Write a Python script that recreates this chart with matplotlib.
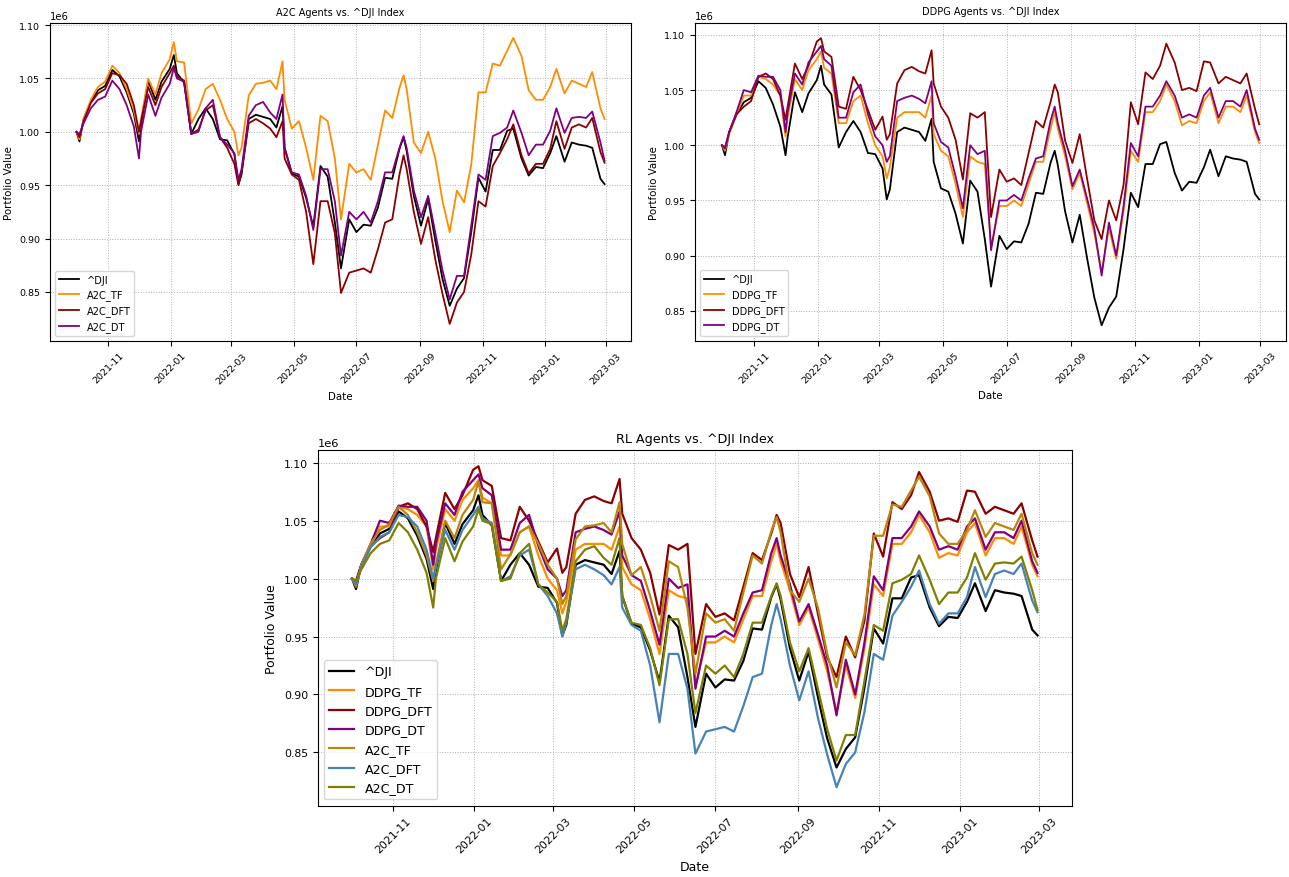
import pandas as pd
import matplotlib
matplotlib.use("Agg")
import matplotlib.pyplot as plt
import matplotlib.dates as mdates

# weekly readings (portfolio value in millions), normalised to 1.0 on 2021-10-01
dates = [
    "2021-10-01", "2021-10-04", "2021-10-08", "2021-10-15", "2021-10-22", "2021-10-29",
    "2021-11-05", "2021-11-12", "2021-11-19", "2021-11-26",
    "2021-12-01", "2021-12-03", "2021-12-10", "2021-12-17", "2021-12-23", "2021-12-31",
    "2022-01-04", "2022-01-07", "2022-01-14", "2022-01-21", "2022-01-28",
    "2022-02-04", "2022-02-11", "2022-02-18", "2022-02-25",
    "2022-03-04", "2022-03-08", "2022-03-11", "2022-03-18", "2022-03-25",
    "2022-04-01", "2022-04-08", "2022-04-14", "2022-04-20", "2022-04-22", "2022-04-29",
    "2022-05-06", "2022-05-13", "2022-05-20", "2022-05-27",
    "2022-06-03", "2022-06-10", "2022-06-16", "2022-06-24",
    "2022-07-01", "2022-07-08", "2022-07-15", "2022-07-22", "2022-07-29",
    "2022-08-05", "2022-08-12", "2022-08-16", "2022-08-19", "2022-08-26",
    "2022-09-02", "2022-09-09", "2022-09-16", "2022-09-23", "2022-09-30",
    "2022-10-07", "2022-10-14", "2022-10-21", "2022-10-28",
    "2022-11-04", "2022-11-11", "2022-11-18", "2022-11-25",
    "2022-12-01", "2022-12-09", "2022-12-16", "2022-12-23", "2022-12-30",
    "2023-01-06", "2023-01-12", "2023-01-20", "2023-01-27",
    "2023-02-03", "2023-02-10", "2023-02-16", "2023-02-24", "2023-02-28",
]

dji = [
    1.000, 0.991, 1.012, 1.028, 1.039, 1.043,
    1.058, 1.052, 1.037, 1.017,
    0.991, 1.007, 1.048, 1.030, 1.047, 1.059,
    1.072, 1.055, 1.046, 0.998, 1.012,
    1.022, 1.012, 0.993, 0.992,
    0.979, 0.951, 0.960, 1.012, 1.016,
    1.014, 1.012, 1.004, 1.024, 0.985, 0.961,
    0.958, 0.938, 0.911, 0.968,
    0.958, 0.915, 0.872, 0.918,
    0.906, 0.913, 0.912, 0.929, 0.957,
    0.956, 0.984, 0.995, 0.982, 0.940,
    0.912, 0.937, 0.898, 0.862, 0.837,
    0.853, 0.863, 0.906, 0.957,
    0.944, 0.983, 0.983, 1.001,
    1.003, 0.975, 0.959, 0.967, 0.966,
    0.980, 0.996, 0.972, 0.990,
    0.988, 0.987, 0.985, 0.956, 0.951,
]

a2c_tf = [
    1.000, 0.993, 1.012, 1.030, 1.042, 1.047,
    1.062, 1.055, 1.040, 1.020,
    0.998, 1.012, 1.050, 1.035, 1.055, 1.068,
    1.084, 1.066, 1.065, 1.008, 1.021,
    1.040, 1.045, 1.030, 1.012,
    1.000, 0.978, 0.985, 1.034, 1.045,
    1.046, 1.048, 1.040, 1.066, 1.030, 1.003,
    1.010, 0.985, 0.955, 1.015,
    1.010, 0.975, 0.918, 0.970,
    0.962, 0.965, 0.955, 0.988, 1.020,
    1.013, 1.041, 1.053, 1.040, 0.990,
    0.980, 1.000, 0.975, 0.935, 0.906,
    0.945, 0.934, 0.969, 1.037,
    1.037, 1.064, 1.062, 1.076,
    1.088, 1.071, 1.039, 1.030, 1.030,
    1.042, 1.059, 1.036, 1.048,
    1.045, 1.042, 1.056, 1.022, 1.012,
]

a2c_dft = [
    1.000, 0.995, 1.010, 1.027, 1.036, 1.040,
    1.055, 1.053, 1.045, 1.025,
    1.000, 1.010, 1.042, 1.025, 1.042, 1.055,
    1.062, 1.052, 1.048, 0.998, 1.002,
    1.020, 1.025, 0.995, 0.985,
    0.970, 0.950, 0.962, 1.008, 1.012,
    1.008, 1.003, 0.995, 1.010, 0.975, 0.960,
    0.955, 0.925, 0.876, 0.935,
    0.935, 0.905, 0.849, 0.868,
    0.870, 0.872, 0.868, 0.890, 0.915,
    0.918, 0.960, 0.978, 0.965, 0.925,
    0.895, 0.920, 0.880, 0.848, 0.820,
    0.840, 0.850, 0.885, 0.935,
    0.930, 0.968, 0.980, 0.993,
    1.007, 0.978, 0.961, 0.970, 0.970,
    0.984, 1.010, 0.984, 1.004,
    1.007, 1.004, 1.013, 0.981, 0.971,
]

a2c_dt = [
    1.000, 0.998, 1.008, 1.022, 1.030, 1.033,
    1.048, 1.040, 1.025, 1.005,
    0.975, 1.000, 1.035, 1.015, 1.032, 1.045,
    1.060, 1.050, 1.047, 0.998, 1.000,
    1.022, 1.030, 0.995, 0.988,
    0.980, 0.955, 0.965, 1.015, 1.025,
    1.028, 1.018, 1.012, 1.035, 0.985, 0.962,
    0.960, 0.940, 0.908, 0.965,
    0.965, 0.935, 0.884, 0.925,
    0.918, 0.925, 0.915, 0.935, 0.962,
    0.962, 0.985, 0.996, 0.985, 0.945,
    0.920, 0.940, 0.905, 0.870, 0.843,
    0.865, 0.865, 0.912, 0.960,
    0.955, 0.996, 0.999, 1.004,
    1.020, 0.999, 0.978, 0.988, 0.988,
    1.001, 1.022, 0.999, 1.013,
    1.014, 1.013, 1.019, 0.990, 0.973,
]

ddpg_tf = [
    1.000, 0.995, 1.010, 1.028, 1.045, 1.045,
    1.062, 1.060, 1.055, 1.045,
    1.008, 1.025, 1.060, 1.050, 1.068, 1.078,
    1.085, 1.070, 1.065, 1.020, 1.020,
    1.040, 1.045, 1.020, 1.000,
    0.990, 0.970, 0.980, 1.025, 1.030,
    1.030, 1.030, 1.025, 1.045, 1.010, 0.995,
    0.990, 0.965, 0.935, 0.990,
    0.985, 0.983, 0.908, 0.945,
    0.945, 0.950, 0.945, 0.965, 0.985,
    0.985, 1.015, 1.030, 1.015, 0.990,
    0.960, 0.975, 0.948, 0.920, 0.885,
    0.925, 0.897, 0.940, 0.995,
    0.985, 1.030, 1.030, 1.040,
    1.055, 1.040, 1.018, 1.022, 1.020,
    1.040, 1.048, 1.020, 1.035,
    1.035, 1.030, 1.045, 1.012, 1.002,
]

ddpg_dft = [
    1.000, 0.998, 1.012, 1.028, 1.035, 1.040,
    1.062, 1.065, 1.060, 1.045,
    1.023, 1.035, 1.074, 1.060, 1.072, 1.094,
    1.097, 1.085, 1.080, 1.035, 1.033,
    1.062, 1.050, 1.032, 1.014,
    1.026, 1.005, 1.010, 1.056, 1.068,
    1.071, 1.067, 1.065, 1.086, 1.056, 1.035,
    1.025, 1.005, 0.969, 1.029,
    1.025, 1.030, 0.935, 0.978,
    0.967, 0.970, 0.964, 0.993, 1.022,
    1.016, 1.039, 1.055, 1.048, 1.004,
    0.984, 1.010, 0.970, 0.932, 0.915,
    0.950, 0.932, 0.964, 1.039,
    1.019, 1.066, 1.060, 1.072,
    1.092, 1.075, 1.050, 1.052, 1.049,
    1.076, 1.075, 1.056, 1.062,
    1.059, 1.056, 1.065, 1.033, 1.019,
]

ddpg_dt = [
    1.000, 0.997, 1.012, 1.030, 1.050, 1.048,
    1.063, 1.062, 1.062, 1.050,
    1.012, 1.030, 1.065, 1.055, 1.075, 1.085,
    1.090, 1.078, 1.072, 1.025, 1.025,
    1.048, 1.055, 1.028, 1.008,
    1.000, 0.985, 0.990, 1.040, 1.043,
    1.045, 1.042, 1.038, 1.058, 1.020, 1.003,
    0.998, 0.972, 0.943, 1.000,
    0.992, 0.995, 0.905, 0.950,
    0.950, 0.955, 0.950, 0.970, 0.988,
    0.990, 1.022, 1.035, 1.020, 0.995,
    0.963, 0.978, 0.952, 0.925, 0.882,
    0.930, 0.900, 0.945, 1.002,
    0.990, 1.035, 1.035, 1.045,
    1.058, 1.045, 1.025, 1.028, 1.025,
    1.045, 1.052, 1.025, 1.040,
    1.040, 1.035, 1.050, 1.015, 1.005,
]

x = pd.to_datetime(dates)
scale = 1e6


def style_axis(ax, title, fs_tick, fs_label, fs_title, fs_legend):
    ax.set_title(title, fontsize=fs_title)
    ax.set_xlabel("Date", fontsize=fs_label)
    ax.set_ylabel("Portfolio Value", fontsize=fs_label)
    ax.grid(True, linestyle=":", linewidth=0.7, color="#b0b0b0")
    ax.xaxis.set_major_locator(mdates.MonthLocator(bymonth=[1, 3, 5, 7, 9, 11]))
    ax.xaxis.set_major_formatter(mdates.DateFormatter("%Y-%m"))
    ax.tick_params(labelsize=fs_tick)
    ax.yaxis.get_offset_text().set_fontsize(fs_tick + 0.4)
    for lbl in ax.get_xticklabels():
        lbl.set_rotation(45)
    ax.legend(loc="lower left", fontsize=fs_legend)


fig = plt.figure(figsize=(12.89, 8.78), dpi=100)

# A2C agents
ax1 = fig.add_axes([0.0388, 0.6105, 0.4507, 0.3622])
ax1.plot(x, [v * scale for v in dji], color="black", lw=1.3, label="^DJI")
ax1.plot(x, [v * scale for v in a2c_tf], color="darkorange", lw=1.3, label="A2C_TF")
ax1.plot(x, [v * scale for v in a2c_dft], color="darkred", lw=1.3, label="A2C_DFT")
ax1.plot(x, [v * scale for v in a2c_dt], color="purple", lw=1.3, label="A2C_DT")
ax1.set_ylim(0.804e6, 1.102e6)
style_axis(ax1, "A2C Agents vs. ^DJI Index", 6.8, 7.4, 7.0, 7.1)

# DDPG agents
ax2 = fig.add_axes([0.5392, 0.6108, 0.4585, 0.3622])
ax2.plot(x, [v * scale for v in dji], color="black", lw=1.3, label="^DJI")
ax2.plot(x, [v * scale for v in ddpg_tf], color="darkorange", lw=1.3, label="DDPG_TF")
ax2.plot(x, [v * scale for v in ddpg_dft], color="darkred", lw=1.3, label="DDPG_DFT")
ax2.plot(x, [v * scale for v in ddpg_dt], color="purple", lw=1.3, label="DDPG_DT")
ax2.set_ylim(0.823e6, 1.111e6)
style_axis(ax2, "DDPG Agents vs. ^DJI Index", 6.8, 7.4, 7.0, 7.1)

# all agents
ax3 = fig.add_axes([0.2465, 0.0812, 0.585, 0.4051])
ax3.plot(x, [v * scale for v in dji], color="black", lw=1.6, label="^DJI")
ax3.plot(x, [v * scale for v in ddpg_tf], color="darkorange", lw=1.6, label="DDPG_TF")
ax3.plot(x, [v * scale for v in ddpg_dft], color="darkred", lw=1.6, label="DDPG_DFT")
ax3.plot(x, [v * scale for v in ddpg_dt], color="purple", lw=1.6, label="DDPG_DT")
ax3.plot(x, [v * scale for v in a2c_tf], color="darkgoldenrod", lw=1.6, label="A2C_TF")
ax3.plot(x, [v * scale for v in a2c_dft], color="steelblue", lw=1.6, label="A2C_DFT")
ax3.plot(x, [v * scale for v in a2c_dt], color="olive", lw=1.6, label="A2C_DT")
ax3.set_ylim(0.804e6, 1.111e6)
style_axis(ax3, "RL Agents vs. ^DJI Index", 7.8, 9.0, 9.2, 9.1)

plt.savefig("out.png", dpi=100)
